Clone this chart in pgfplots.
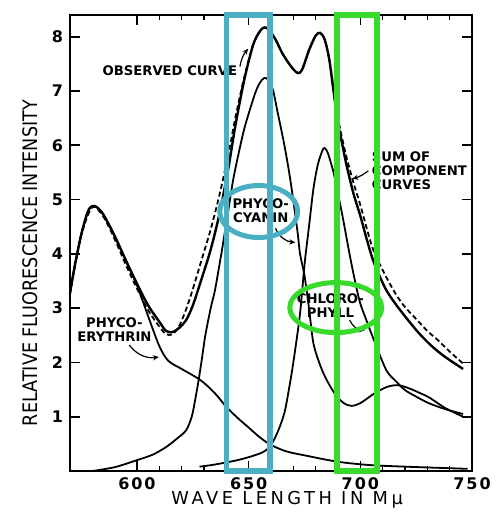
\documentclass[border=0pt]{standalone}
\usepackage{fontspec}
\setmainfont{DejaVu Sans}
\newfontfamily\lblfont[LetterSpace=20]{DejaVu Sans}
\newfontfamily\tickfont[LetterSpace=12]{DejaVu Sans}
\usepackage{graphicx}
\usepackage{pgfplots}
\pgfplotsset{compat=1.18}
\usetikzlibrary{arrows.meta}
\definecolor{boxteal}{HTML}{4AAFC2}
\definecolor{boxgreen}{HTML}{38DA2C}

\begin{document}
\begin{tikzpicture}
\begin{axis}[scale only axis, width=201pt, height=228pt,
  xmin=570, xmax=750, ymin=0, ymax=8.4,
  xtick={600,650,700,750}, minor x tick num=4,
  ytick={1,2,3,4,5,6,7,8},
  tick align=inside, major tick length=5pt, minor tick length=2.5pt,
  axis line style={line width=1pt},
  every tick/.style={black, line width=0.8pt},
  /pgf/number format/assume math mode=true,
  tick label style={font=\tickfont\bfseries\fontsize{8}{8}\selectfont},
  xlabel={\lblfont\fontsize{8.9}{9}\selectfont WAVE LENGTH IN Mμ},
  ylabel={\scalebox{0.88}[1]{\fontsize{10}{10}\selectfont RELATIVE FLUORESCENCE INTENSITY}},
  xlabel style={at={(axis description cs:0.54,-0.0636)}, anchor=center},
  ylabel style={at={(axis description cs:-0.0995,0.456)}, anchor=center},
  clip=false]

% observed curve
\addplot[black, line width=1.2pt, smooth] coordinates {(570,3.27) (572,3.75) (575,4.35) (578,4.78) (580,4.88) (582,4.86) (585,4.72) (590,4.33) (595,3.88) (600,3.45) (605,3.05) (610,2.75) (613,2.58) (616,2.56) (619,2.64) (622,2.78) (625,3.05) (629,3.55) (633,4.08) (637,4.75) (641,5.6) (644,6.35) (648,7.2) (652,7.85) (655,8.1) (657,8.17) (659,8.13) (662,7.95) (665,7.7) (669,7.45) (672,7.33) (674,7.4) (677,7.75) (680,8.02) (682,8.07) (684,7.95) (686,7.6) (688,7.0) (690,6.4) (692,6.0) (694,5.6) (697,5.1) (700,4.7) (703,4.25) (706,3.85) (711,3.38) (715,3.12) (720,2.85) (726,2.55) (732,2.3) (738,2.1) (746,1.88)};

% sum of component curves
\addplot[black, line width=0.9pt, dash pattern=on 2.5pt off 1.5pt, smooth] coordinates {(570,3.27) (575,4.33) (580,4.86) (585,4.68) (590,4.27) (595,3.8) (600,3.36) (605,2.96) (610,2.66) (613,2.52) (616,2.52) (619,2.68) (622,2.98) (625,3.35) (629,3.9) (633,4.45) (637,5.1) (641,5.85) (644,6.5) (648,7.25) (652,7.85) (655,8.1) (657,8.17) (659,8.13) (662,7.95) (665,7.7) (669,7.45) (672,7.33) (674,7.4) (677,7.75) (680,8.02) (682,8.07) (684,7.95) (686,7.62) (688,7.05) (690,6.5) (692,6.1) (694,5.75) (697,5.3) (700,4.9) (703,4.45) (706,4.05) (711,3.62) (716,3.25) (720,3.02) (725,2.8) (730,2.58) (735,2.4) (740,2.2) (746,1.98)};

% phycoerythrin
\addplot[black, line width=0.9pt, smooth] coordinates {(570,3.27) (572,3.75) (575,4.35) (578,4.78) (580,4.88) (582,4.86) (585,4.72) (590,4.33) (595,3.88) (600,3.42) (605,2.85) (610,2.3) (614,2.03) (620,1.88) (627.5,1.7) (632,1.55) (636,1.38) (640,1.18) (645,0.98) (650,0.8) (655,0.62) (660,0.48) (667,0.36) (676,0.28) (690,0.17) (704,0.11) (720,0.08) (748,0.04)};

% phycocyanin
\addplot[black, line width=0.9pt, smooth] coordinates {(580,0.0) (590,0.07) (600,0.2) (607,0.3) (613,0.44) (618,0.6) (622,0.75) (624.5,1.0) (626,1.3) (627.5,1.65) (629,2.05) (630.6,2.5) (633,3.0) (635,3.35) (638,4.06) (640.5,4.7) (643,5.35) (645.5,5.85) (648,6.3) (650.5,6.65) (653,6.97) (655,7.15) (657,7.24) (659,7.2) (661,7.0) (663,6.6) (666,6.0) (668.7,5.35) (671.8,4.43) (673,4.0) (675,3.6) (677,3.0) (679,2.35) (682,1.95) (685,1.67) (689,1.4) (692.6,1.25) (696,1.2) (700,1.25) (706,1.42) (712,1.55) (717,1.58) (722,1.52) (727,1.43) (731,1.35) (738,1.16) (746,1.0)};

% chlorophyll
\addplot[black, line width=0.9pt, smooth] coordinates {(628,0.08) (635,0.12) (645,0.2) (652,0.28) (657,0.36) (660,0.48) (663,0.72) (666,1.07) (668,1.5) (670,2.0) (673,2.9) (675,3.8) (677,4.5) (679,5.2) (681,5.65) (683,5.9) (684,5.95) (685.5,5.85) (688,5.5) (690,5.1) (692,4.7) (696,3.82) (699.6,3.14) (702.7,2.78) (706,2.42) (711.6,1.86) (716,1.65) (720,1.49) (725,1.37) (730.6,1.25) (738,1.14) (746,1.05)};

% text labels
\begin{scope}[every node/.style={font=\bfseries\fontsize{6.6}{7.2}\selectfont, align=center, inner sep=0pt}]
\node at (axis cs:614.7,7.37) {OBSERVED CURVE};
\node[anchor=west, align=left] at (axis cs:705,5.53) {SUM OF\\COMPONENT\\CURVES};
\node at (axis cs:655.4,4.8) {PHYCO-\\CYANIN};
\node at (axis cs:686.6,3.05) {CHLORO-\\PHYLL};
\node at (axis cs:589.9,2.6) {PHYCO-\\ERYTHRIN};
\end{scope}
\begin{scope}[-{Stealth[length=3pt,width=2.6pt]}, line width=0.6pt]
\draw (axis cs:646.1,7.45) to[bend left=15] (axis cs:649.8,7.78);
\draw (axis cs:703.6,5.53) to[bend left=10] (axis cs:696.4,5.38);
\draw (axis cs:662,4.47) to[bend right=30] (axis cs:670.9,4.21);
\draw (axis cs:695.2,2.78) to[bend right=30] (axis cs:701.9,2.59);
\draw (axis cs:596.5,2.32) to[bend right=30] (axis cs:609.8,2.1);
\end{scope}

% highlight boxes
\draw[boxteal, line width=2.75pt] (axis cs:640,0) rectangle (axis cs:659.5,8.4);
\draw[boxgreen, line width=2.75pt] (axis cs:689.5,0) rectangle (axis cs:707.5,8.4);
\draw[boxteal, line width=2.5pt] (axis cs:654.5,4.78) ellipse [x radius=19.5pt, y radius=13pt];
\draw[boxgreen, line width=2.5pt] (axis cs:689,3.01) ellipse [x radius=23pt, y radius=12.5pt];
\end{axis}
\pgfresetboundingbox
\path ([shift={(-35pt,-22.5pt)}]current axis.south west) rectangle ([shift={(11.5pt,7.5pt)}]current axis.north east);
\end{tikzpicture}
\end{document}
